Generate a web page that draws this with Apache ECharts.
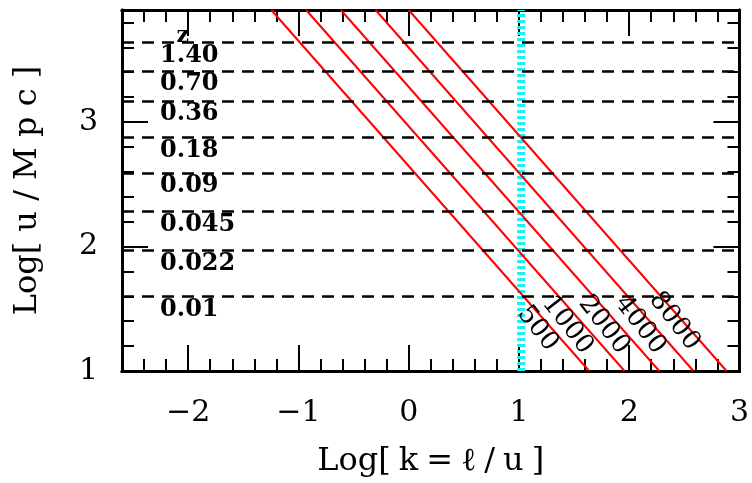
<!DOCTYPE html>
<html>
<head>
<meta charset="utf-8">
<script src="https://cdn.jsdelivr.net/npm/echarts@6/dist/echarts.min.js"></script>
<style>
html, body { margin: 0; padding: 0; background: #fff; }
#chart { width: 752px; height: 483px; }
</style>
</head>
<body>
<div id="chart"></div>
<script>
// axes: x = Log[k = l/u], y = Log[u/Mpc]
const xMajorTicks = [-2, -1, 0, 1, 2, 3];
const xMinorTicks = [-2.4, -2.2, -1.8, -1.6, -1.4, -1.2, -0.8, -0.6, -0.4, -0.2,
    0.2, 0.4, 0.6, 0.8, 1.2, 1.4, 1.6, 1.8, 2.2, 2.4, 2.6, 2.8];
const yMajorTicks = [1, 2, 3];
const yMinorTicks = [1.2, 1.4, 1.6, 1.8, 2.2, 2.4, 2.6, 2.8, 3.2, 3.4, 3.6, 3.8];

// redshift shells (dashed lines) and their labels
const zLabels = ["1.40", "0.70", "0.36", "0.18", "0.09", "0.045", "0.022", "0.01"];
const zLogDist = [3.643, 3.414, 3.172, 2.877, 2.594, 2.280, 1.970, 1.599];
const zLabelX = -2.25;
const zTitle = [-2.05, 3.69, "z"];

// constant multipole lines
const ellLabels = ["500", "1000", "2000", "4000", "8000"];
const lineTopX = [-1.246, -0.93, -0.615, -0.30, 0.0];
const lineBottomX = [1.637, 1.958, 2.273, 2.583, 2.883];
const ellLabelX = [1.17, 1.44, 1.77, 2.10, 2.41];
const ellLabelY = [1.34, 1.37, 1.37, 1.37, 1.40];

// vertical cyan marker
const cyanX = 1.02;

const xMin = -2.6, xMax = 3, yMin = 1, yMax = 3.9;
const font = "DejaVu Serif";
const minus = v => String(v).replace("-", "\u2212");
// the original font is wider than ours, so open up the bracket part a bit
const spread = (s, gap) => s.split("").join(gap);

function xAxisDef(pos, ticks, len, withLabels) {
    return {
        type: "value", position: pos, min: xMin, max: xMax,
        axisLine: {show: true, onZero: false, lineStyle: {color: "#000", width: 3}},
        axisTick: {show: true, inside: true, length: len, customValues: ticks,
            lineStyle: {color: "#000", width: 2}},
        axisLabel: withLabels ? {show: true, customValues: xMajorTicks, margin: 27,
            formatter: minus, fontFamily: font, fontSize: 30, color: "#000"} : {show: false},
        splitLine: {show: false}
    };
}

function yAxisDef(pos, ticks, len, withLabels) {
    return {
        type: "value", position: pos, min: yMin, max: yMax,
        axisLine: {show: true, onZero: false, lineStyle: {color: "#000", width: 3}},
        axisTick: {show: true, inside: true, length: len, customValues: ticks,
            lineStyle: {color: "#000", width: 2}},
        axisLabel: withLabels ? {show: true, customValues: yMajorTicks, margin: 24,
            fontFamily: font, fontSize: 30, color: "#000"} : {show: false},
        splitLine: {show: false}
    };
}

const xAxes = [
    xAxisDef("bottom", xMajorTicks, 26, true),
    xAxisDef("bottom", xMinorTicks, 12, false),
    xAxisDef("top", xMajorTicks, 26, false),
    xAxisDef("top", xMinorTicks, 12, false)
];
xAxes[0].name = "Log" + spread("[k=\u2113/u]", "\u2005");
xAxes[0].nameLocation = "middle";
xAxes[0].nameGap = 75;
xAxes[0].nameTextStyle = {fontFamily: font, fontSize: 32, color: "#000"};

const yAxes = [
    yAxisDef("left", yMajorTicks, 26, true),
    yAxisDef("left", yMinorTicks, 12, false),
    yAxisDef("right", yMajorTicks, 26, false),
    yAxisDef("right", yMinorTicks, 12, false)
];
yAxes[0].name = "Log" + spread("[u/Mpc]", " ");
yAxes[0].nameLocation = "middle";
yAxes[0].nameGap = 78;
yAxes[0].nameTextStyle = {fontFamily: font, fontSize: 32, color: "#000"};

const series = [];

// cyan dotted vertical line
series.push({
    type: "line", silent: true, symbol: "none", z: 1,
    data: [[cyanX, yMin], [cyanX, yMax]],
    lineStyle: {color: "#1ceef2", width: 8, type: [3, 3]}
});

// dashed redshift lines
series.push({
    type: "line", silent: true, symbol: "none", data: [], z: 2,
    markLine: {
        silent: true, symbol: "none", label: {show: false},
        lineStyle: {color: "#000", width: 2.5, type: [12, 8]},
        data: zLogDist.map(v => ({yAxis: v}))
    }
});

// red lines of constant l
ellLabels.forEach((name, i) => {
    series.push({
        type: "line", silent: true, symbol: "none", z: 3,
        data: [[lineTopX[i], yMax], [lineBottomX[i], yMin]],
        lineStyle: {color: "#ff0000", width: 2}
    });
});

const hidden = {color: "rgba(0,0,0,0)", opacity: 1};

// z labels
series.push({
    type: "scatter", silent: true, symbolSize: 1, z: 4,
    itemStyle: hidden,
    data: zLabels.map((t, i) => [zLabelX, zLogDist[i], t]),
    label: {
        show: true, position: [0, 14], align: "left", verticalAlign: "middle",
        formatter: p => p.data[2], opacity: 1, textBorderWidth: 0,
        fontFamily: font, fontWeight: "bold", fontSize: 24, color: "#000"
    }
});
series.push({
    type: "scatter", silent: true, symbolSize: 1, z: 4,
    itemStyle: hidden,
    data: [zTitle],
    label: {
        show: true, position: "inside", align: "center", verticalAlign: "middle",
        formatter: p => p.data[2], opacity: 1, textBorderWidth: 0,
        fontFamily: font, fontWeight: "bold", fontSize: 22, color: "#000"
    }
});

// rotated l labels
series.push({
    type: "scatter", silent: true, symbolSize: 1, z: 5,
    itemStyle: hidden,
    data: ellLabels.map((t, i) => [ellLabelX[i], ellLabelY[i], t]),
    label: {
        show: true, position: "inside", align: "center", verticalAlign: "middle",
        rotate: -52, formatter: p => p.data[2], opacity: 1, textBorderWidth: 0,
        fontFamily: font, fontSize: 26, color: "#000"
    }
});

const chart = echarts.init(document.getElementById("chart"));
chart.setOption({
    animation: false,
    backgroundColor: "#fff",
    grid: {left: 122, right: 11, top: 10, bottom: 112, containLabel: false},
    xAxis: xAxes,
    yAxis: yAxes,
    series: series
});
</script>
</body>
</html>
